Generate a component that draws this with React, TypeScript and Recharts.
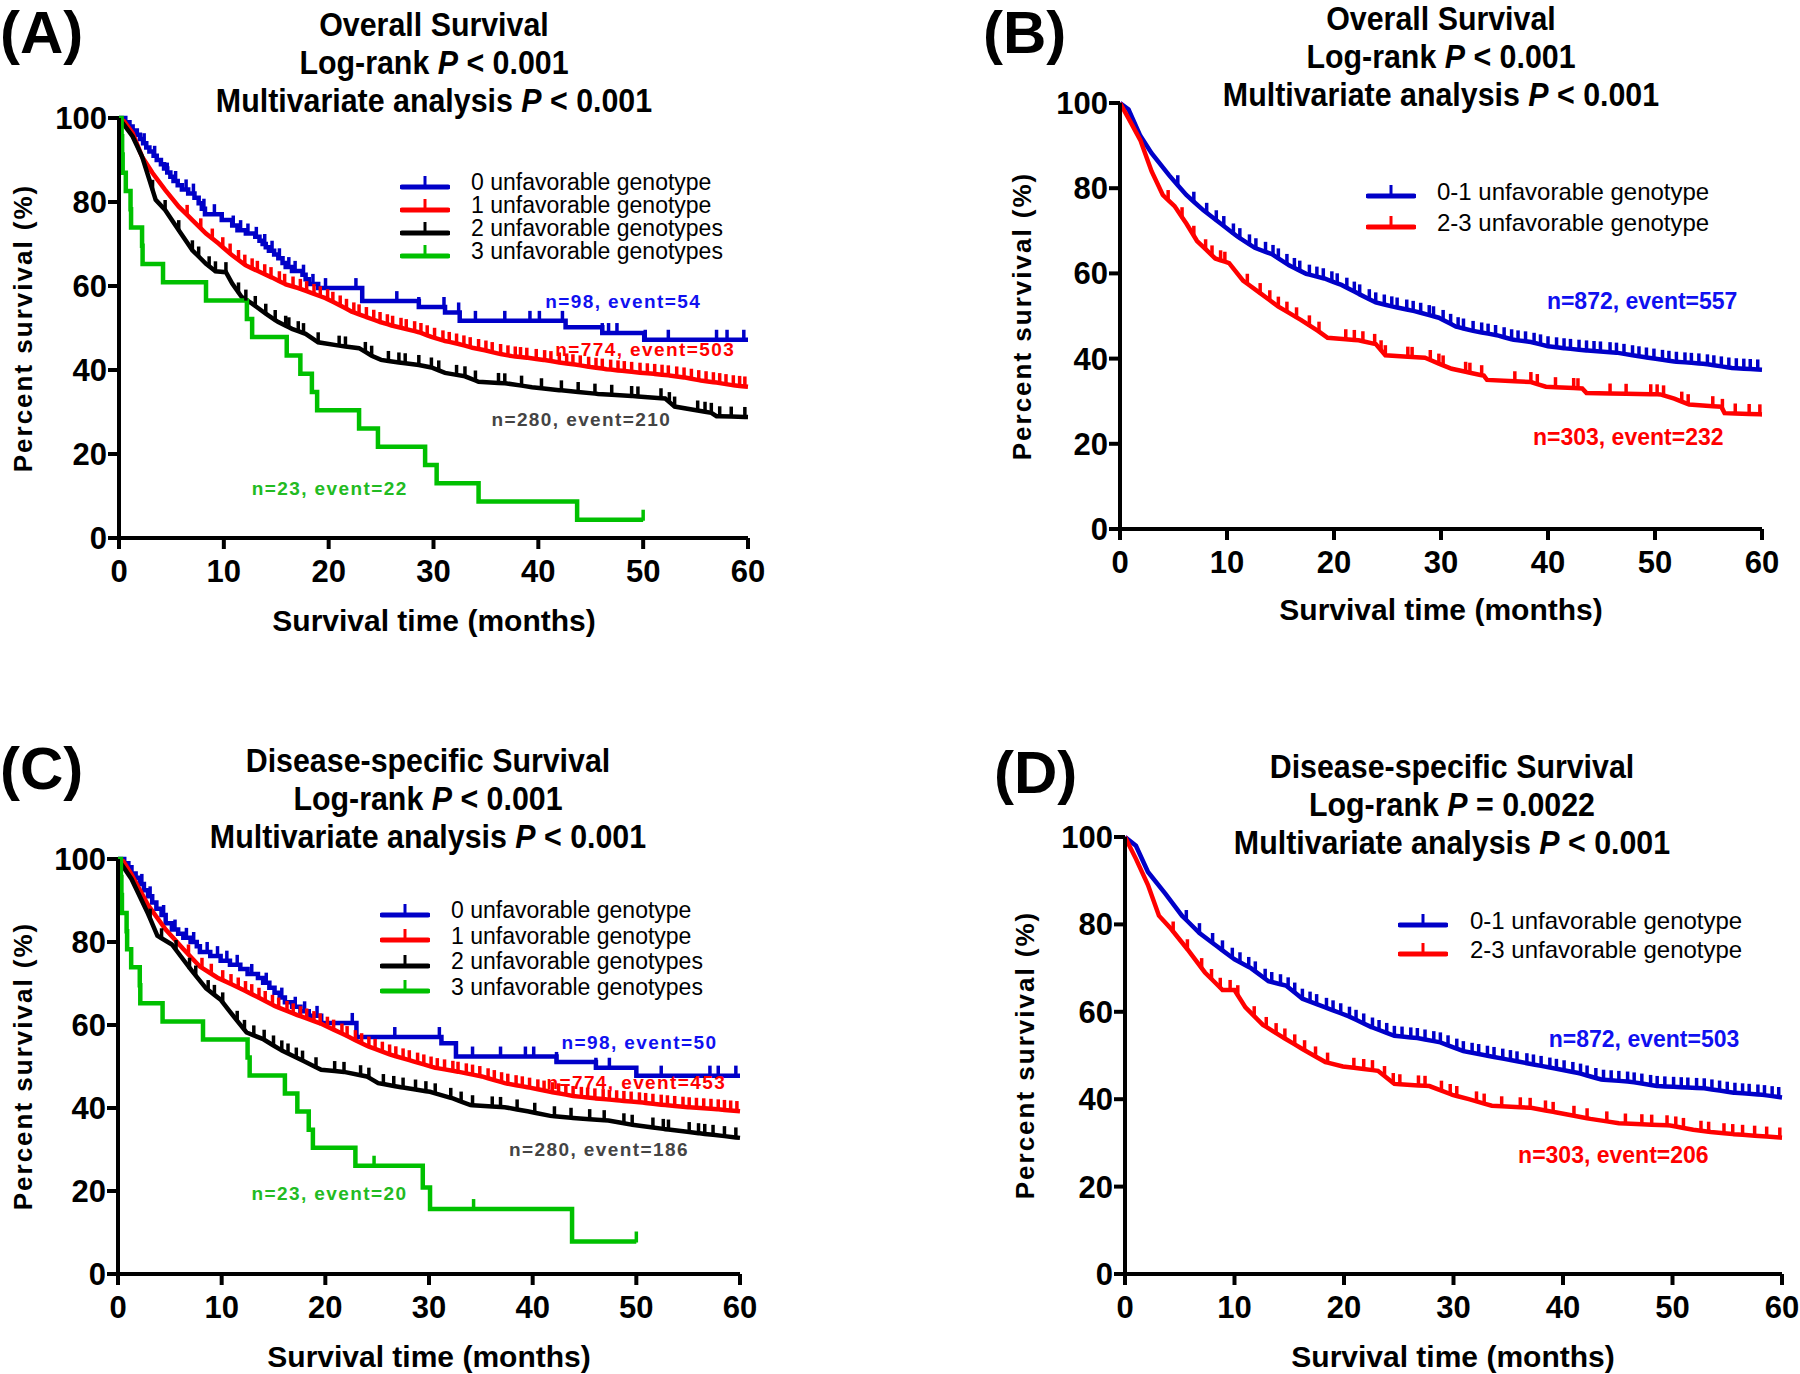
import React from 'react';
import { LineChart, Line, XAxis, YAxis, ReferenceDot } from 'recharts';

type Pt = [number, number];

// ---------- (A) Overall survival, 4 genotype groups ----------
const osG0: Pt[] = [[0, 100], [0.6, 99], [1.0, 98], [1.3, 97], [1.7, 96], [2.0, 95], [2.3, 94], [2.6, 93], [2.9, 92], [3.3, 91], [3.6, 90], [4.0, 89], [4.3, 88], [4.6, 87], [4.9, 86], [5.2, 85], [5.6, 84], [6.0, 83], [6.6, 82], [7.2, 81], [7.6, 79.7], [7.9, 78.4], [8.2, 77.1], [9.8, 75.7], [10.8, 74.4], [11.3, 73.3], [12.1, 72.5], [13.0, 71.7], [13.4, 70.8], [13.7, 70.0], [14.0, 69.2], [14.3, 68.4], [14.8, 67.5], [15.2, 66.6], [15.6, 65.5], [15.9, 64.5], [16.5, 63.6], [17.5, 62.7], [17.8, 61.6], [18.1, 60.5], [19.0, 59.5], [23.2, 56.4], [28.6, 55.0], [31.1, 53.7], [32.5, 51.7], [42.6, 50.2], [46.1, 48.8], [50.1, 47.2], [60, 47.2]];
const osG0Cens = [2.4, 3.4, 4.6, 5.4, 6.4, 7.1, 8.1, 9.1, 10.9, 11.6, 12.3, 13.1, 13.9, 14.6, 15.3, 16.2, 16.8, 17.6, 18.5, 19.7, 22.6, 26.5, 28.6, 31.0, 32.4, 34.0, 36.8, 39.2, 40.1, 42.3, 46.1, 46.7, 47.5, 50.2, 52.4, 57.0, 58.0, 59.6];
const osG1: Pt[] = [[0, 100], [0.5, 99.2], [1.3, 96.4], [2.2, 90.8], [3.2, 86.9], [4.4, 82.9], [5.7, 78.9], [7.0, 75.7], [8.3, 72.5], [9.5, 70.1], [10.8, 67.3], [12.1, 64.9], [13.3, 63.5], [14.6, 62.0], [15.9, 60.4], [17.1, 59.5], [18.4, 58.3], [19.7, 57.1], [21.0, 55.5], [22.2, 53.9], [23.5, 52.7], [24.8, 51.5], [26.0, 50.6], [27.3, 49.8], [28.6, 49.0], [29.8, 47.9], [31.1, 46.9], [32.4, 46.2], [33.7, 45.3], [34.9, 44.7], [36.2, 43.9], [37.5, 43.3], [39.0, 42.9], [40.5, 42.4], [42.0, 41.8], [43.5, 41.3], [45.0, 40.7], [46.5, 40.2], [48.0, 39.8], [49.5, 39.4], [51.0, 39.1], [52.5, 38.7], [54.0, 38.2], [55.5, 37.5], [57.0, 37.0], [58.5, 36.4], [60, 36.0]];
const osG1Cens = [6.5, 7.8, 8.9, 9.9, 10.6, 11.4, 12.0, 12.7, 13.2, 13.9, 14.5, 15.3, 15.8, 16.6, 17.3, 17.9, 18.6, 19.2, 19.9, 20.4, 21.1, 21.7, 22.4, 22.9, 23.6, 24.3, 24.9, 25.6, 26.1, 26.9, 27.4, 28.2, 28.8, 29.4, 30.1, 30.9, 31.5, 32.2, 32.9, 33.5, 34.3, 35.0, 35.6, 36.4, 37.1, 37.8, 38.3, 38.9, 39.8, 40.6, 41.2, 42.0, 42.7, 43.3, 44.0, 44.8, 45.5, 46.1, 46.9, 47.6, 48.2, 48.9, 49.7, 50.4, 51.1, 51.8, 52.4, 53.2, 53.9, 54.6, 55.3, 56.0, 56.7, 57.3, 57.9, 58.6, 59.2, 59.7];
const osG2: Pt[] = [[0, 100], [1.3, 95.6], [2.2, 90.8], [2.9, 85.3], [3.5, 80.5], [4.4, 78.1], [5.7, 73.3], [7.0, 68.5], [8.3, 65.3], [9.2, 63.5], [10.2, 63.3], [10.8, 60.6], [11.7, 57.4], [12.7, 55.8], [14.0, 53.4], [15.2, 51.4], [16.5, 49.8], [17.8, 48.6], [19.0, 46.6], [21.0, 45.8], [22.9, 45.2], [24.1, 43.4], [25.0, 42.4], [26.7, 41.8], [28.6, 41.2], [29.8, 40.6], [31.1, 39.3], [33.0, 38.5], [34.3, 37.2], [37.0, 36.8], [39.4, 35.9], [42.0, 35.2], [45.7, 34.3], [49.0, 33.8], [52.1, 33.2], [53.0, 31.3], [56.5, 29.8], [57.0, 29.0], [60, 28.8]];
const osG2Cens = [3.2, 4.4, 5.7, 7.0, 7.6, 8.6, 9.2, 10.2, 11.4, 12.1, 13.0, 14.0, 14.9, 15.9, 16.2, 17.1, 17.6, 19.0, 21.0, 21.6, 23.5, 24.1, 25.7, 26.7, 27.3, 28.6, 29.8, 30.5, 32.2, 33.0, 34.0, 36.2, 36.8, 38.4, 40.3, 42.2, 43.8, 45.4, 47.0, 48.9, 49.5, 51.7, 52.5, 53.0, 55.2, 55.9, 56.5, 57.3, 58.4, 59.7];
const osG3: Pt[] = [[0, 100], [0.25, 95.65], [0.3, 91.3], [0.35, 86.96], [0.65, 82.61], [1.1, 78.26], [1.15, 73.91], [2.2, 69.57], [2.25, 65.22], [4.2, 60.87], [8.3, 56.52], [12.2, 52.17], [12.7, 47.83], [16.0, 43.48], [17.3, 39.13], [18.4, 34.78], [18.9, 30.43], [22.9, 26.09], [24.7, 21.74], [29.2, 17.39], [30.3, 13.04], [34.3, 8.7], [43.7, 4.35], [50, 4.35]];
const osG3Cens = [50];

// ---------- (B) Overall survival, 2 groups ----------
const osLow: Pt[] = [[0, 100], [0.8, 98.5], [1.9, 92.3], [2.95, 88.2], [4.6, 83.0], [6.2, 78.4], [7.8, 74.8], [9.4, 71.7], [11.0, 68.6], [12.6, 66.0], [14.2, 64.5], [15.8, 61.9], [17.4, 59.9], [19.1, 58.8], [20.7, 57.3], [22.3, 55.2], [23.9, 53.2], [25.5, 52.2], [27.6, 51.1], [29.8, 49.6], [31.4, 47.5], [33.0, 46.5], [35.2, 45.5], [36.8, 44.4], [38.4, 43.9], [40.0, 42.9], [41.6, 42.4], [43.7, 41.9], [46.4, 41.4], [49.1, 40.3], [51.8, 39.3], [54.5, 38.8], [57.2, 37.8], [60, 37.4]];
const osLowCens = [5.4, 6.9, 8.1, 9.0, 9.7, 10.6, 11.2, 12.1, 12.7, 13.6, 14.3, 14.8, 15.6, 16.3, 16.8, 17.7, 18.4, 19.0, 19.8, 20.3, 21.2, 21.9, 22.4, 23.3, 23.9, 24.7, 25.4, 25.9, 26.8, 27.4, 28.1, 28.9, 29.3, 30.2, 30.9, 31.6, 32.1, 33.0, 33.8, 34.4, 35.1, 35.9, 36.6, 37.2, 37.9, 38.7, 39.3, 40.0, 40.8, 41.5, 42.1, 42.9, 43.6, 44.3, 44.9, 45.8, 46.4, 47.1, 47.9, 48.5, 49.2, 49.9, 50.7, 51.3, 52.0, 52.8, 53.4, 54.1, 54.9, 55.5, 56.2, 56.9, 57.6, 58.3, 58.9, 59.6];
const osHigh: Pt[] = [[0, 100], [0.8, 96.4], [1.9, 91.3], [2.95, 84.0], [4.0, 78.4], [5.1, 75.8], [6.2, 71.7], [7.2, 67.6], [8.9, 63.5], [10.2, 62.4], [11.5, 58.3], [13.2, 55.2], [14.8, 52.2], [16.9, 49.1], [18.5, 46.5], [19.4, 44.9], [22.3, 44.3], [23.9, 43.4], [24.8, 40.8], [28.5, 40.2], [30.2, 38.4], [31.0, 37.6], [34.0, 36.0], [34.3, 35.0], [38.4, 34.5], [39.8, 33.4], [43.2, 33.0], [43.6, 31.9], [50.5, 31.6], [51.8, 30.6], [53.2, 29.2], [56.2, 28.7], [56.5, 27.2], [60, 26.9]];
const osHighCens = [4.5, 5.8, 6.9, 8.0, 8.6, 9.4, 9.8, 11.9, 13.1, 14.0, 14.8, 15.6, 16.5, 17.7, 18.6, 21.1, 21.9, 22.7, 23.8, 24.4, 24.8, 26.9, 27.3, 29.0, 29.8, 30.2, 32.3, 32.7, 33.8, 36.9, 38.4, 39.0, 40.7, 42.4, 42.8, 45.8, 47.3, 49.6, 50.2, 50.8, 52.5, 53.1, 55.4, 56.3, 57.5, 58.8, 59.8];

// ---------- (C) Disease-specific survival, 4 genotype groups ----------
const dsG0: Pt[] = [[0, 100], [0.6, 99], [1.0, 98], [1.3, 96.5], [1.7, 95.5], [2.1, 94], [2.5, 92.5], [2.9, 91], [3.3, 89.5], [3.7, 88], [4.2, 86.5], [4.6, 84.5], [5.2, 83], [5.8, 82], [6.3, 81], [7.0, 80], [7.6, 79], [7.9, 77.6], [8.9, 76.6], [9.9, 75.5], [10.8, 74.5], [11.8, 73.5], [12.5, 72.3], [13.5, 71.3], [14.0, 70.2], [14.6, 69], [15.1, 67.8], [15.6, 66.6], [16.1, 65.5], [16.8, 64.4], [17.6, 63.3], [18.4, 62.2], [19.6, 60.5], [23.0, 57.1], [31.2, 55.6], [32.6, 52.4], [42.3, 51.1], [46.1, 49.7], [50.0, 47.8], [60, 47.8]];
const dsG0Cens = [2.3, 3.1, 4.4, 5.5, 6.6, 7.3, 8.6, 9.6, 10.5, 11.5, 12.9, 14.3, 15.8, 17.1, 18.0, 19.2, 22.6, 26.7, 31.0, 34.2, 36.9, 39.3, 40.1, 42.3, 46.1, 47.4, 52.4, 57.1, 57.9, 59.6];
const dsG1: Pt[] = [[0, 100], [0.5, 99.5], [1.3, 96.3], [2.9, 88.9], [4.6, 83.0], [6.3, 78.3], [7.9, 74.1], [9.6, 71.4], [11.8, 68.8], [13.5, 66.7], [15.1, 64.6], [17.3, 62.4], [19.6, 60.3], [21.8, 57.7], [24.0, 55.0], [26.2, 52.9], [28.4, 51.3], [30.6, 49.7], [32.9, 48.7], [35.1, 47.6], [37.3, 46.0], [39.5, 45.0], [41.7, 43.9], [43.9, 42.9], [46.1, 42.3], [48.4, 41.8], [50.6, 41.3], [52.8, 40.7], [55.0, 40.2], [57.8, 39.7], [60, 39.2]];
const dsG1Cens = [6.8, 8.1, 9.0, 10.1, 10.9, 11.6, 12.3, 12.9, 13.6, 14.2, 14.9, 15.5, 16.3, 16.9, 17.6, 18.2, 18.9, 19.5, 20.2, 20.8, 21.6, 22.1, 22.9, 23.5, 24.2, 24.8, 25.5, 26.2, 26.8, 27.5, 28.1, 28.9, 29.5, 30.2, 30.8, 31.5, 32.3, 32.8, 33.6, 34.2, 34.9, 35.7, 36.3, 37.0, 37.6, 38.4, 39.0, 39.7, 40.5, 41.1, 41.9, 42.5, 43.2, 43.9, 44.7, 45.3, 46.0, 46.8, 47.4, 48.1, 48.8, 49.5, 50.3, 50.9, 51.6, 52.4, 53.0, 53.7, 54.5, 55.1, 55.8, 56.5, 57.2, 57.9, 58.5, 59.1, 59.7];
const dsG2: Pt[] = [[0, 100], [1.3, 95.2], [2.9, 86.8], [3.8, 81.5], [5.2, 79.4], [6.8, 74.1], [8.5, 68.8], [9.9, 66.1], [10.7, 63.5], [12.4, 58.2], [14.0, 56.6], [15.7, 54.0], [17.9, 51.3], [19.6, 49.2], [21.8, 48.7], [24.0, 47.6], [25.1, 46.0], [27.3, 45.0], [30.1, 43.9], [32.3, 42.3], [34.0, 40.7], [37.3, 40.2], [39.5, 39.2], [41.7, 38.1], [43.9, 37.6], [47.3, 37.0], [49.5, 36.0], [52.8, 34.9], [56.1, 33.9], [60, 32.8]];
const dsG2Cens = [3.1, 4.2, 5.6, 6.9, 7.5, 8.7, 9.3, 10.1, 11.5, 12.2, 13.1, 14.1, 15.0, 15.8, 16.4, 17.2, 17.8, 19.1, 20.9, 21.8, 23.4, 24.2, 25.6, 26.6, 27.5, 28.7, 29.7, 30.6, 32.1, 33.1, 34.2, 36.1, 36.9, 38.5, 40.2, 42.1, 43.7, 45.5, 46.9, 48.8, 49.6, 51.6, 52.6, 53.1, 55.1, 56.0, 56.6, 57.4, 58.5, 59.6];
const dsG3: Pt[] = [[0, 100], [0.28, 95.65], [0.33, 91.3], [0.38, 86.96], [0.83, 82.61], [0.88, 78.26], [1.27, 73.91], [2.1, 69.57], [2.15, 65.22], [4.3, 60.87], [8.2, 56.52], [12.5, 52.17], [12.7, 47.83], [16.1, 43.48], [17.3, 39.13], [18.4, 34.78], [18.8, 30.43], [22.9, 26.09], [29.4, 20.87], [30.1, 15.65], [43.8, 7.83], [50, 7.83]];
const dsG3Cens = [24.7, 34.3, 50];

// ---------- (D) Disease-specific survival, 2 groups ----------
const dsLow: Pt[] = [[0, 100], [1.0, 98], [2.1, 92], [3.7, 87], [5.2, 82], [6.8, 78], [8.4, 75], [10.0, 72], [11.5, 70], [13.1, 67], [14.7, 66], [16.2, 63], [18.3, 61], [20.4, 59], [22.5, 56.5], [24.6, 54.5], [26.7, 54], [28.8, 53], [30.9, 51], [33.0, 50], [35.1, 49], [37.2, 48], [39.3, 47], [41.4, 46], [43.5, 44.5], [46.1, 44], [48.7, 43], [52.9, 42.5], [55.6, 41.5], [58.2, 41], [60, 40.4]];
const dsLowCens = [5.6, 6.8, 8.0, 8.9, 9.8, 10.5, 11.3, 11.9, 12.8, 13.4, 14.2, 14.9, 15.5, 16.2, 16.9, 17.5, 18.4, 19.0, 19.7, 20.5, 21.1, 21.8, 22.6, 23.2, 23.9, 24.6, 25.3, 26.1, 26.7, 27.4, 28.2, 28.8, 29.5, 30.3, 30.9, 31.7, 32.3, 33.1, 33.7, 34.5, 35.2, 35.8, 36.7, 37.3, 38.0, 38.8, 39.4, 40.1, 40.9, 41.6, 42.2, 43.0, 43.7, 44.4, 45.1, 45.9, 46.5, 47.2, 48.0, 48.6, 49.3, 50.1, 50.8, 51.4, 52.2, 52.9, 53.6, 54.3, 55.0, 55.7, 56.4, 57.0, 57.8, 58.4, 59.1, 59.7];
const dsHigh: Pt[] = [[0, 100], [1.0, 95], [2.1, 89], [3.1, 82], [4.2, 79], [5.8, 74], [7.3, 69], [8.9, 65], [10.0, 65], [11.0, 61], [12.6, 57], [14.2, 54.5], [16.2, 51.5], [18.3, 48.5], [19.9, 47.5], [23.1, 46.5], [24.6, 43.5], [27.8, 43], [29.9, 41], [31.4, 40], [33.5, 38.5], [37.2, 38], [39.3, 37], [42.5, 35.5], [45.1, 34.5], [49.8, 34], [51.9, 33], [53.5, 32.5], [55.6, 32], [60, 31.2]];
const dsHighCens = [4.4, 5.7, 7.0, 7.9, 8.7, 9.6, 10.3, 11.8, 12.9, 13.8, 14.6, 15.5, 16.4, 17.4, 18.5, 20.9, 21.8, 22.6, 23.7, 24.5, 25.1, 26.8, 27.4, 28.9, 29.7, 30.3, 32.1, 32.8, 34.4, 36.1, 37.0, 38.4, 39.1, 41.0, 42.2, 44.0, 45.7, 47.2, 48.1, 49.5, 50.3, 51.0, 52.6, 53.3, 54.7, 55.5, 56.4, 57.5, 58.6, 59.8];

// ---------- labels ----------
const fourGroupNames = ['0 unfavorable genotype', '1 unfavorable genotype', '2 unfavorable genotypes', '3 unfavorable genotypes'];
const twoGroupNames = ['0-1 unfavorable genotype', '2-3 unfavorable genotype'];
const osFourNotes = ['n=98, event=54', 'n=774, event=503', 'n=280, event=210', 'n=23, event=22'];
const osTwoNotes = ['n=872, event=557', 'n=303, event=232'];
const dsFourNotes = ['n=98, event=50', 'n=774, event=453', 'n=280, event=186', 'n=23, event=20'];
const dsTwoNotes = ['n=872, event=503', 'n=303, event=206'];
const xTicks = [0, 10, 20, 30, 40, 50, 60];
const yTicks = [0, 20, 40, 60, 80, 100];

const FONT = '"Liberation Sans", Arial, Helvetica, sans-serif';
const BLUE = '#0000c8';
const RED = '#ff0000';
const BLACK = '#000000';
const GREEN = '#00c000';
const NOTE_COLORS = ['#1010f0', '#ff0000', '#444444', '#22bb22'];

type Curve = 'stepAfter' | 'linear';
interface Series {
  name: string;
  color: string;
  steps: Pt[];
  cens: number[];
  curve: Curve;
}

const valueAt = (steps: Pt[], t: number, curve: Curve) => {
  let i = 0;
  while (i < steps.length - 1 && steps[i + 1][0] <= t) i++;
  if (curve === 'stepAfter' || i === steps.length - 1) return steps[i][1];
  const [t0, s0] = steps[i];
  const [t1, s1] = steps[i + 1];
  return s0 + ((s1 - s0) * (t - t0)) / (t1 - t0);
};

const buildRows = (s: Series) =>
  [
    ...s.steps.map(([t, v]) => ({ t, s: v, c: false })),
    ...s.cens.map((t) => ({ t, s: valueAt(s.steps, t, s.curve), c: true })),
  ].sort((a, b) => a.t - b.t || (a.c ? 1 : -1));

const censorDot = (color: string) => (p: any) => {
  const { cx, cy, payload, index } = p;
  if (!payload || !payload.c || cx == null) return <g key={`d${index}`} />;
  return <line key={`d${index}`} x1={cx} x2={cx} y1={cy + 1} y2={cy - 10} stroke={color} strokeWidth={3.5} />;
};

interface Note {
  text: string;
  x: number;
  y: number;
  color: string;
}

interface PanelProps {
  box: { left: number; top: number; w: number; h: number };
  plot: { left: number; right: number; top: number; bottom: number };
  series: Series[];
  notes: Note[];
  noteStyle: { fontSize: number; letterSpacing: number };
}

const Panel: React.FC<PanelProps> = ({ box, plot, series, notes, noteStyle }) => {
  const yAxisW = 80;
  const xAxisH = 60;
  const margin = {
    left: plot.left - box.left - yAxisW,
    right: box.left + box.w - plot.right,
    top: plot.top - box.top,
    bottom: box.top + box.h - plot.bottom - xAxisH,
  };
  const tickStyle = { fill: '#000', fontSize: 31, fontWeight: 700, fontFamily: FONT };
  return (
    <div style={{ position: 'absolute', left: box.left, top: box.top }}>
      <LineChart width={box.w} height={box.h} margin={margin}>
        <XAxis
          type="number"
          dataKey="t"
          domain={[0, 60]}
          ticks={xTicks}
          interval={0}
          height={xAxisH}
          axisLine={{ stroke: '#000', strokeWidth: 4 }}
          tickLine={{ stroke: '#000', strokeWidth: 4 }}
          tickSize={11}
          tickMargin={11}
          tick={tickStyle}
        />
        <YAxis
          type="number"
          domain={[0, 100]}
          ticks={yTicks}
          interval={0}
          width={yAxisW}
          axisLine={{ stroke: '#000', strokeWidth: 4 }}
          tickLine={{ stroke: '#000', strokeWidth: 4 }}
          tickSize={11}
          tickMargin={1}
          tick={tickStyle}
        />
        {series.map((s) => (
          <Line
            key={s.name}
            data={buildRows(s)}
            dataKey="s"
            name={s.name}
            type={s.curve}
            stroke={s.color}
            strokeWidth={4.5}
            dot={censorDot(s.color)}
            activeDot={false}
            isAnimationActive={false}
          />
        ))}
        {notes.map((n) => (
          <ReferenceDot
            key={n.text}
            x={n.x}
            y={n.y}
            r={0}
            ifOverflow="visible"
            shape={(p: any) => (
              <text
                x={p.cx}
                y={p.cy}
                textAnchor="middle"
                dominantBaseline="central"
                fill={n.color}
                fontFamily={FONT}
                fontWeight={700}
                fontSize={noteStyle.fontSize}
                letterSpacing={noteStyle.letterSpacing}
              >
                {n.text}
              </text>
            )}
          />
        ))}
      </LineChart>
    </div>
  );
};

const LegendBox: React.FC<{ left: number; top: number; row: number; gap: number; fontSize: number; items: { name: string; color: string }[] }> = ({ left, top, row, gap, fontSize, items }) => (
  <div style={{ position: 'absolute', left, top, fontFamily: FONT, fontSize, color: '#000' }}>
    {items.map((it) => (
      <div key={it.name} style={{ display: 'flex', alignItems: 'center', height: row, whiteSpace: 'nowrap' }}>
        <svg width={50} height={20} style={{ marginRight: gap }}>
          <line x1={2} x2={48} y1={14} y2={14} stroke={it.color} strokeWidth={5} strokeLinecap="round" />
          <line x1={25} x2={25} y1={14} y2={3} stroke={it.color} strokeWidth={3} />
        </svg>
        <span>{it.name}</span>
      </div>
    ))}
  </div>
);

const Title: React.FC<{ cx: number; top: number; lines: React.ReactNode[] }> = ({ cx, top, lines }) => (
  <div
    style={{
      position: 'absolute',
      left: cx,
      top,
      transform: 'translateX(-50%) scaleX(0.92)',
      textAlign: 'center',
      fontFamily: FONT,
      fontWeight: 700,
      fontSize: 33,
      lineHeight: '38px',
      whiteSpace: 'nowrap',
      color: '#000',
    }}
  >
    {lines.map((l, i) => (
      <div key={i}>{l}</div>
    ))}
  </div>
);

const P = <i>P</i>;

const PanelLabel: React.FC<{ left: number; top: number; text: string }> = ({ left, top, text }) => (
  <div style={{ position: 'absolute', left, top, fontFamily: FONT, fontWeight: 700, fontSize: 60, lineHeight: '66px', color: '#000' }}>{text}</div>
);

const YTitle: React.FC<{ cx: number; cy: number }> = ({ cx, cy }) => (
  <div
    style={{
      position: 'absolute',
      left: cx,
      top: cy,
      transform: 'translate(-50%, -50%) rotate(-90deg)',
      fontFamily: FONT,
      fontWeight: 700,
      fontSize: 26,
      letterSpacing: 2,
      whiteSpace: 'nowrap',
      color: '#000',
    }}
  >
    Percent survival (%)
  </div>
);

const XTitle: React.FC<{ cx: number; cy: number }> = ({ cx, cy }) => (
  <div
    style={{
      position: 'absolute',
      left: cx,
      top: cy,
      transform: 'translate(-50%, -50%)',
      fontFamily: FONT,
      fontWeight: 700,
      fontSize: 30,
      whiteSpace: 'nowrap',
      color: '#000',
    }}
  >
    Survival time (months)
  </div>
);

const four = (g: Pt[][], c: number[][]): Series[] =>
  [BLUE, RED, BLACK, GREEN].map((color, i) => ({
    name: fourGroupNames[i],
    color,
    steps: g[i],
    cens: c[i],
    curve: i === 0 || i === 3 ? 'stepAfter' : 'linear',
  }));

const two = (g: Pt[][], c: number[][]): Series[] =>
  [BLUE, RED].map((color, i) => ({ name: twoGroupNames[i], color, steps: g[i], cens: c[i], curve: 'linear' }));

const App: React.FC = () => {
  const seriesA = four([osG0, osG1, osG2, osG3], [osG0Cens, osG1Cens, osG2Cens, osG3Cens]);
  const seriesB = two([osLow, osHigh], [osLowCens, osHighCens]);
  const seriesC = four([dsG0, dsG1, dsG2, dsG3], [dsG0Cens, dsG1Cens, dsG2Cens, dsG3Cens]);
  const seriesD = two([dsLow, dsHigh], [dsLowCens, dsHighCens]);

  const notesA: Note[] = [
    { text: osFourNotes[0], x: 48.1, y: 56.4, color: NOTE_COLORS[0] },
    { text: osFourNotes[1], x: 50.2, y: 45.0, color: NOTE_COLORS[1] },
    { text: osFourNotes[2], x: 44.1, y: 28.3, color: NOTE_COLORS[2] },
    { text: osFourNotes[3], x: 20.1, y: 11.7, color: NOTE_COLORS[3] },
  ];
  const notesB: Note[] = [
    { text: osTwoNotes[0], x: 48.8, y: 53.5, color: NOTE_COLORS[0] },
    { text: osTwoNotes[1], x: 47.5, y: 21.6, color: NOTE_COLORS[1] },
  ];
  const notesC: Note[] = [
    { text: dsFourNotes[0], x: 50.3, y: 55.8, color: NOTE_COLORS[0] },
    { text: dsFourNotes[1], x: 50.0, y: 46.1, color: NOTE_COLORS[1] },
    { text: dsFourNotes[2], x: 46.4, y: 30.1, color: NOTE_COLORS[2] },
    { text: dsFourNotes[3], x: 20.4, y: 19.3, color: NOTE_COLORS[3] },
  ];
  const notesD: Note[] = [
    { text: dsTwoNotes[0], x: 47.4, y: 53.8, color: NOTE_COLORS[0] },
    { text: dsTwoNotes[1], x: 44.6, y: 27.2, color: NOTE_COLORS[1] },
  ];

  const fourNote = { fontSize: 19, letterSpacing: 1.4 };
  const twoNote = { fontSize: 23, letterSpacing: 0 };

  return (
    <div style={{ position: 'absolute', left: 0, top: 0, width: 1800, height: 1374, background: '#fff', overflow: 'hidden' }}>
      <Panel box={{ left: 0, top: 0, w: 900, h: 687 }} plot={{ left: 119, right: 748, top: 118, bottom: 538 }} series={seriesA} notes={notesA} noteStyle={fourNote} />
      <Panel box={{ left: 900, top: 0, w: 900, h: 687 }} plot={{ left: 1120, right: 1762, top: 103, bottom: 529 }} series={seriesB} notes={notesB} noteStyle={twoNote} />
      <Panel box={{ left: 0, top: 687, w: 900, h: 687 }} plot={{ left: 118, right: 740, top: 859, bottom: 1274 }} series={seriesC} notes={notesC} noteStyle={fourNote} />
      <Panel box={{ left: 900, top: 687, w: 900, h: 687 }} plot={{ left: 1125, right: 1782, top: 837, bottom: 1274 }} series={seriesD} notes={notesD} noteStyle={twoNote} />

      <PanelLabel left={0} top={0} text="(A)" />
      <PanelLabel left={983} top={0} text="(B)" />
      <PanelLabel left={0} top={736} text="(C)" />
      <PanelLabel left={994} top={740} text="(D)" />

      <Title cx={434} top={6} lines={['Overall Survival', <>Log-rank {P} &lt; 0.001</>, <>Multivariate analysis {P} &lt; 0.001</>]} />
      <Title cx={1441} top={0} lines={['Overall Survival', <>Log-rank {P} &lt; 0.001</>, <>Multivariate analysis {P} &lt; 0.001</>]} />
      <Title cx={428} top={742} lines={['Disease-specific Survival', <>Log-rank {P} &lt; 0.001</>, <>Multivariate analysis {P} &lt; 0.001</>]} />
      <Title cx={1452} top={748} lines={['Disease-specific Survival', <>Log-rank {P} = 0.0022</>, <>Multivariate analysis {P} &lt; 0.001</>]} />

      <LegendBox left={400} top={171} row={23} gap={21} fontSize={23} items={seriesA.map((s) => ({ name: s.name, color: s.color }))} />
      <LegendBox left={1366} top={176} row={31} gap={21} fontSize={24} items={seriesB.map((s) => ({ name: s.name, color: s.color }))} />
      <LegendBox left={380} top={898} row={25.5} gap={21} fontSize={23} items={seriesC.map((s) => ({ name: s.name, color: s.color }))} />
      <LegendBox left={1398} top={907} row={28.5} gap={22} fontSize={24} items={seriesD.map((s) => ({ name: s.name, color: s.color }))} />

      <YTitle cx={23} cy={328} />
      <YTitle cx={1022} cy={316} />
      <YTitle cx={23} cy={1066} />
      <YTitle cx={1025} cy={1055} />

      <XTitle cx={434} cy={621} />
      <XTitle cx={1441} cy={610} />
      <XTitle cx={429} cy={1357} />
      <XTitle cx={1453} cy={1357} />
    </div>
  );
};

export default App;
